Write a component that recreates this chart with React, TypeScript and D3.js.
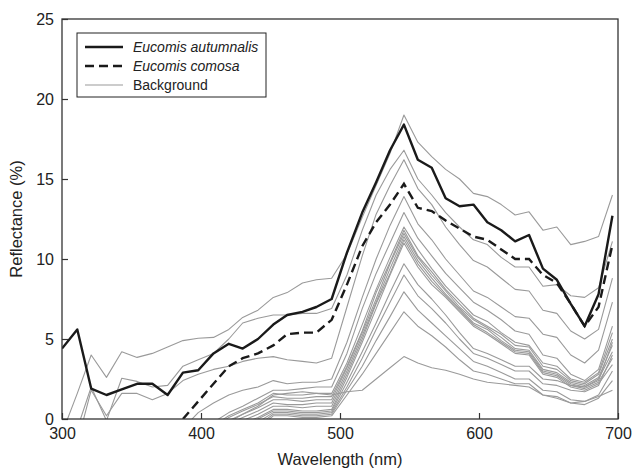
import React, { useRef, useEffect } from "react";
import * as d3 from "d3";

// wavelength (nm) of each sample
const wavelengths = [300, 311, 321, 332, 343, 354, 365, 376, 387, 398, 409, 420,
  430, 441, 452, 462, 473, 483, 494,
  505, 516, 526, 536, 546,
  556, 566, 576, 586, 596, 606, 616, 626, 636, 646, 656, 666, 676, 686, 696];

const autumnalis = [4.4, 5.6, 1.9, 1.5, 1.85, 2.2, 2.2, 1.5, 2.9, 3.05, 4.1, 4.7,
  4.4, 5.0, 5.9, 6.5, 6.7, 7.0, 7.5,
  10.4, 12.9, 14.8, 16.8, 18.4,
  16.2, 15.7, 13.8, 13.3, 13.4, 12.3, 11.8, 11.1, 11.5, 9.4, 8.7, 7.2, 5.8, 7.8, 12.7];

const comosa = [null, null, null, null, null, null, null, null, 0.0, 1.1, 2.2, 3.3,
  3.8, 4.1, 4.6, 5.3, 5.4, 5.4, 6.2,
  8.4, 10.8, 12.3, 13.4, 14.7,
  13.2, 13.0, 12.4, 11.9, 11.4, 11.2, 10.6, 10.0, 10.0, 9.0, 8.5, 7.2, 5.8, 7.0, 10.9];

// background spectra
const bg1 = [-0.9, 1.6, 4.0, 2.6, 4.2, 3.85, 4.1, 4.5, 4.9, 5.05, 5.1, 5.6,
  6.35, 6.8, 7.6, 7.9, 8.5, 8.7, 8.8,
  10.3, 12.6, 14.6, 16.6, 19.0,
  17.3, 16.4, 15.6, 15.0, 14.1, 13.9, 13.4, 12.75, 12.95, 11.8, 12.0, 10.9, 11.1, 11.4, 14.0];
const bg2 = [-3.0, -0.6, 2.0, -0.1, 2.55, 2.35, 2.0, 2.1, 3.3, 3.7, 4.1, 5.0,
  6.0, 6.3, 6.5, 6.5, 6.6, 6.6, 6.9,
  9.0, 11.8, 14.0, 15.6, 16.8,
  15.0, 14.0, 12.9, 12.0, 11.2, 10.9, 10.1, 9.5, 9.5, 8.3, 8.4, 7.7, 7.6, 8.2, 11.1];
const bg3 = [-4.0, -1.5, 1.8, 0.2, 1.6, 1.6, 1.2, 1.6, 2.4, 2.8, 3.1, 3.3,
  3.6, 3.8, 3.9, 3.7, 3.6, 3.5, 3.8,
  7.0, 10.2, 12.8, 14.6, 16.2,
  14.4, 13.4, 12.0, 10.9, 9.9, 9.5, 8.8, 8.1, 8.0, 6.8, 6.6, 5.5, 5.0, 5.6, 8.8];
const bg4 = [-6, -6, -5, -5, -4, -4, -3, -2, -0.6, 0.4, 1.0, 1.5,
  1.8, 2.0, 2.4, 2.2, 2.3, 2.3, 2.5,
  4.8, 7.6, 10.0, 12.1, 13.9,
  12.2, 11.2, 10.0, 9.0, 8.0, 7.6, 7.0, 6.4, 6.3, 5.3, 5.1, 4.0, 3.5, 4.3, 7.3];
const bg5 = [-6, -6, -6, -5, -5, -4, -4, -3, -2, -1, -0.2, 0.4,
  0.8, 1.3, 1.8, 1.8, 1.9, 2.0, 2.0,
  4.1, 6.9, 9.1, 11.0, 12.9,
  11.3, 10.2, 9.1, 8.2, 7.3, 6.8, 6.2, 5.5, 5.3, 4.0, 3.8, 2.8, 2.4, 3.1, 5.8];
const bg6 = [-6, -6, -6, -6, -5, -5, -4, -3, -2, -1, -0.4, 0.2,
  0.6, 1.0, 1.6, 1.5, 1.5, 1.6, 1.6,
  3.5, 5.9, 8.1, 10.1, 12.0,
  10.6, 9.4, 8.3, 7.4, 6.5, 6.1, 5.4, 4.8, 4.6, 3.5, 3.3, 2.5, 2.3, 2.9, 5.4];
const bg7 = [-6, -6, -6, -6, -5, -5, -4, -3, -2.2, -1.2, -0.6, 0.1,
  0.5, 0.9, 1.4, 1.3, 1.3, 1.4, 1.4,
  3.3, 5.5, 7.9, 9.8, 11.8,
  10.2, 9.2, 8.1, 7.2, 6.3, 5.8, 5.3, 4.6, 4.5, 3.3, 3.1, 2.4, 2.2, 2.8, 5.0];
const bg8 = [-6, -6, -6, -6, -5, -5, -4, -3, -2.4, -1.5, -0.8, -0.1,
  0.3, 0.7, 1.2, 1.2, 1.1, 1.2, 1.2,
  3.2, 5.4, 7.5, 9.7, 11.6,
  10.1, 9.0, 8.0, 7.0, 6.2, 5.7, 5.1, 4.4, 4.3, 3.1, 2.9, 2.3, 2.1, 2.6, 4.6];
const bg9 = [-6, -6, -6, -6, -5, -5, -4, -3, -2.6, -1.7, -0.9, -0.3,
  0.1, 0.5, 1.0, 0.9, 0.9, 1.0, 1.0,
  3.0, 5.2, 7.3, 9.4, 11.4,
  9.9, 8.8, 7.8, 6.9, 6.0, 5.6, 4.9, 4.3, 4.2, 3.0, 2.8, 2.2, 2.0, 2.5, 4.2];
const bg10 = [-6, -6, -6, -6, -5, -5, -4, -3.5, -2.8, -1.9, -1.1, -0.5,
  -0.1, 0.3, 0.8, 0.8, 0.7, 0.8, 0.8,
  2.8, 5.0, 7.2, 9.1, 11.2,
  9.7, 8.6, 7.7, 6.8, 5.9, 5.4, 4.8, 4.2, 4.1, 2.9, 2.7, 2.1, 1.9, 2.3, 3.8];
const bg11 = [-6, -6, -6, -6, -5, -5, -4, -3.5, -3, -2, -1.3, -0.7,
  -0.3, 0.1, 0.6, 0.6, 0.5, 0.5, 0.6,
  2.6, 4.8, 6.9, 9.0, 11.0,
  9.5, 8.4, 7.6, 6.7, 5.8, 5.3, 4.7, 4.1, 4.0, 2.8, 2.6, 2.0, 1.8, 2.2, 3.4];
const bg12 = [-6, -6, -6, -6, -5, -5, -4, -3.5, -3, -2.2, -1.5, -0.9,
  -0.5, 0.0, 0.5, 0.5, 0.4, 0.4, 0.5,
  2.3, 4.2, 6.0, 7.9, 9.7,
  8.4, 7.5, 6.5, 5.4, 4.4, 4.1, 3.7, 3.3, 3.3, 2.5, 2.4, 2.1, 2.0, 2.4, 4.8];
const bg13 = [-6, -6, -6, -6, -5, -5, -4, -3.5, -3, -2.4, -1.7, -1.1,
  -0.7, -0.2, 0.4, 0.4, 0.3, 0.3, 0.4,
  2.0, 3.8, 5.6, 7.3, 9.0,
  7.7, 6.9, 6.0, 5.0, 4.1, 3.8, 3.4, 3.0, 3.0, 2.2, 2.1, 1.8, 1.7, 2.1, 4.0];
const bg14 = [-6, -6, -6, -6, -5, -5, -4, -3.5, -3, -2.6, -1.9, -1.3,
  -0.9, -0.4, 0.3, 0.3, 0.2, 0.2, 0.3,
  1.8, 3.3, 4.9, 6.4, 7.95,
  6.8, 6.0, 5.2, 4.4, 3.6, 3.3, 2.9, 2.5, 2.5, 1.8, 1.7, 1.2, 1.1, 1.5, 3.0];
const bg15 = [-6, -6, -6, -6, -5, -5, -4, -3.5, -3, -2.8, -2.1, -1.5,
  -1.1, -0.6, 0.2, 0.2, 0.1, 0.1, 0.2,
  1.5, 2.8, 4.1, 5.4, 6.7,
  5.8, 5.2, 4.5, 3.7, 3.0, 2.8, 2.5, 2.2, 2.2, 1.5, 1.4, 1.0, 0.9, 1.3, 2.4];
const bg16 = [-6, -6, -6, -6, -5, -5, -4, -3, -2.2, -1.4, -0.8, -0.2,
  0.3, 0.8, 1.5, 1.6, 1.7, 1.6, 1.5,
  1.7, 1.8, 2.5, 3.2, 3.9,
  3.5, 3.2, 3.05, 2.8, 2.5, 2.3, 2.2, 2.1, 2.0, 1.5, 1.3, 1.0, 1.1, 1.4, 1.8];

const background = [bg1, bg2, bg3, bg4, bg5, bg6, bg7, bg8, bg9, bg10, bg11, bg12, bg13, bg14, bg15, bg16];

const xTicks = [300, 400, 500, 600, 700];
const yTicks = [0, 5, 10, 15, 20, 25];

const App = () => {
  const svgRef = useRef<SVGSVGElement>(null);

  useEffect(() => {
    const width = 634, height = 469;
    const margin = { top: 19, right: 16, bottom: 50, left: 62 };
    const font = "'Liberation Sans', Arial, Helvetica, sans-serif";

    const svg = d3.select(svgRef.current)
      .attr("width", width)
      .attr("height", height)
      .style("background", "#fff");

    svg.selectAll("*").remove();

    const x = d3.scaleLinear().domain([300, 700]).range([margin.left, width - margin.right]);
    const y = d3.scaleLinear().domain([0, 25]).range([height - margin.bottom, margin.top]);

    svg.append("clipPath").attr("id", "plot-clip")
      .append("rect")
      .attr("x", x(300)).attr("y", y(25))
      .attr("width", x(700) - x(300)).attr("height", y(0) - y(25));

    const line = d3.line<number | null>()
      .defined(d => d !== null)
      .x((_, i) => x(wavelengths[i]))
      .y(d => y(d as number));

    const plot = svg.append("g").attr("clip-path", "url(#plot-clip)");

    // Background lines
    plot.selectAll(".bg")
      .data(background)
      .enter().append("path")
      .attr("class", "bg")
      .attr("fill", "none")
      .attr("stroke", "#9a9a9a")
      .attr("stroke-width", 1.1)
      .attr("stroke-linejoin", "round")
      .attr("d", d => line(d));

    // Eucomis comosa
    plot.append("path")
      .datum(comosa)
      .attr("fill", "none")
      .attr("stroke", "#1a1a1a")
      .attr("stroke-width", 2.4)
      .attr("stroke-dasharray", "9,5")
      .attr("d", line);

    // Eucomis autumnalis
    plot.append("path")
      .datum(autumnalis)
      .attr("fill", "none")
      .attr("stroke", "#1a1a1a")
      .attr("stroke-width", 2.4)
      .attr("stroke-linejoin", "round")
      .attr("d", line);

    // Box
    svg.append("rect")
      .attr("x", x(300)).attr("y", y(25))
      .attr("width", x(700) - x(300)).attr("height", y(0) - y(25))
      .attr("fill", "none")
      .attr("stroke", "#333")
      .attr("stroke-width", 1.3);

    // X-axis
    const xAxis = svg.append("g")
      .attr("transform", `translate(0,${y(0)})`)
      .call(d3.axisBottom(x).tickValues(xTicks).tickSizeInner(-6).tickSizeOuter(0).tickPadding(9));
    xAxis.select(".domain").remove();
    xAxis.selectAll("line").attr("stroke", "#333").attr("stroke-width", 1.2);
    xAxis.selectAll("text")
      .style("font-family", font)
      .style("font-size", "16px")
      .attr("fill", "#222");

    // Y-axis
    const yAxis = svg.append("g")
      .attr("transform", `translate(${x(300)},0)`)
      .call(d3.axisLeft(y).tickValues(yTicks).tickSizeInner(-6).tickSizeOuter(0).tickPadding(8));
    yAxis.select(".domain").remove();
    yAxis.selectAll("line").attr("stroke", "#333").attr("stroke-width", 1.2);
    yAxis.selectAll("text")
      .style("font-family", font)
      .style("font-size", "16px")
      .attr("fill", "#222");

    // X-axis label
    svg.append("text")
      .attr("x", (x(300) + x(700)) / 2)
      .attr("y", 465)
      .style("text-anchor", "middle")
      .style("font-family", font)
      .style("font-size", "16.5px")
      .attr("fill", "#222")
      .text("Wavelength (nm)");

    // Y-axis label
    svg.append("text")
      .attr("transform", "rotate(-90)")
      .attr("y", 22)
      .attr("x", -(y(0) + y(25)) / 2)
      .style("text-anchor", "middle")
      .style("font-family", font)
      .style("font-size", "16.5px")
      .attr("fill", "#222")
      .text("Reflectance (%)");

    // Legend
    const legend = svg.append("g").attr("transform", "translate(77,33)");
    legend.append("rect")
      .attr("width", 189).attr("height", 64)
      .attr("fill", "#fff")
      .attr("stroke", "#222")
      .attr("stroke-width", 1);

    const items = [
      { label: "Eucomis autumnalis", italic: true, color: "#1a1a1a", w: 2.4, dash: null },
      { label: "Eucomis comosa", italic: true, color: "#1a1a1a", w: 2.4, dash: "9,5" },
      { label: "Background", italic: false, color: "#9a9a9a", w: 1.1, dash: null }
    ];
    items.forEach((it, i) => {
      const yy = 14 + i * 19;
      legend.append("line")
        .attr("x1", 8).attr("x2", 46)
        .attr("y1", yy).attr("y2", yy)
        .attr("stroke", it.color)
        .attr("stroke-width", it.w)
        .attr("stroke-dasharray", it.dash);
      legend.append("text")
        .attr("x", 56).attr("y", yy + 5)
        .style("font-family", font)
        .style("font-size", "14px")
        .style("font-style", it.italic ? "italic" : "normal")
        .attr("fill", "#222")
        .text(it.label);
    });
  }, []);

  return (
    <div style={{ position: "absolute", left: 0, top: 0 }}>
      <svg ref={svgRef}></svg>
    </div>
  );
};

export default App;
